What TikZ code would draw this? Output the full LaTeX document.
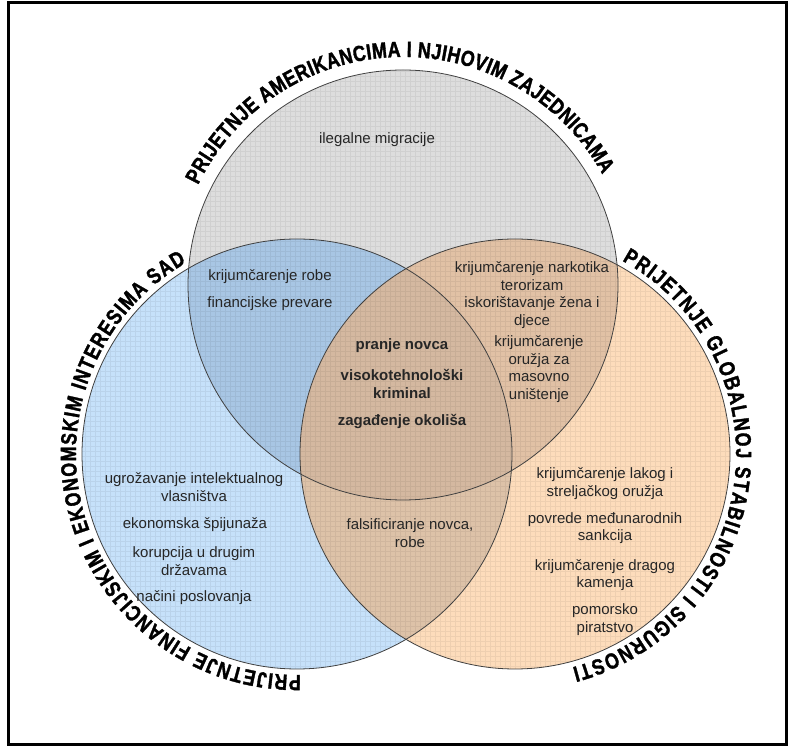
\documentclass[tikz,border=0pt]{standalone}
\usepackage{fontspec}
\setmainfont{Liberation Sans}
\newfontfamily\lblfont[FakeStretch=0.81, FakeBold=1.5]{Liberation Sans Bold}
\usetikzlibrary{calc,decorations.text}
\definecolor{cgray}{HTML}{DDDDDD}
\definecolor{cblue}{HTML}{C6E1FA}
\definecolor{corange}{HTML}{FDDCBB}
\definecolor{cgrayblue}{HTML}{A8C6E4}
\definecolor{cgrayorange}{HTML}{E1C1A5}
\definecolor{cblueorange}{HTML}{DDC2A8}
\definecolor{ccenter}{HTML}{D4B8A0}
\begin{document}
\begin{tikzpicture}[x=1pt,y=1pt,
  txt/.style={align=center, inner sep=0pt, text=black!85, font=\fontsize{15}{17.5}\selectfont},
  btxt/.style={txt, font=\bfseries\fontsize{15}{17.5}\selectfont},
  outline/.style={draw=black!75, line width=0.8pt},
  gridline/.style={draw=black, draw opacity=0.06, line width=0.4pt},
  arclabel/.style={decorate, decoration={text along path,
      text={|\lblfont\fontsize{22}{22}\selectfont|#1},
      text align={fit to path}}}
]
\useasboundingbox (0,0) rectangle (792,746);
\coordinate (T) at (403,461);
\coordinate (B) at (297,292);
\coordinate (O) at (515,292);
\def\R{215}
% fills
\fill[cgray] (T) circle (\R);
\fill[cblue] (B) circle (\R);
\fill[corange] (O) circle (\R);
\begin{scope}
  \clip (T) circle (\R);
  \fill[cgrayblue] (B) circle (\R);
  \fill[cgrayorange] (O) circle (\R);
\end{scope}
\begin{scope}
  \clip (B) circle (\R);
  \fill[cblueorange] (O) circle (\R);
  \clip (T) circle (\R);
  \fill[ccenter] (O) circle (\R);
\end{scope}
% grid texture
\begin{scope}
  \clip (T) circle (\R) (B) circle (\R) (O) circle (\R);
  \draw[gridline, step=5pt] (60,60) grid (760,700);
\end{scope}
% outlines
\draw[outline] (T) circle (\R);
\draw[outline] (B) circle (\R);
\draw[outline] (O) circle (\R);
% arc labels
\path[arclabel={PRIJETNJE AMERIKANCIMA I NJIHOVIM ZAJEDNICAMA}]
  ($(T)+(154:228)$) arc[start angle=154, end angle=29, radius=228];
\path[arclabel={PRIJETNJE FINANCIJSKIM I EKONOMSKIM INTERESIMA SAD}]
  ($(B)+(-89:221)$) arc[start angle=-89, end angle=-240, radius=221];
\path[arclabel={PRIJETNJE GLOBALNOJ STABILNOSTI I SIGURNOSTI}]
  ($(O)+(61:221)$) arc[start angle=61, end angle=-75, radius=221];
% texts
\node[txt] (t1) at (377,606) {ilegalne migracije};
\node[txt] (t2) at (270,469) {krijumčarenje robe};
\node[txt] (t3) at (270,442) {financijske prevare};
\node[txt] (t4) at (532,451) {krijumčarenje narkotika\\terorizam\\iskorištavanje žena i\\djece};
\node[txt] (t5) at (539,377) {krijumčarenje\\oružja za\\masovno\\uništenje};
\node[btxt] (t6) at (402,400) {pranje novca};
\node[btxt] (t7) at (402,362) {visokotehnološki\\kriminal};
\node[btxt] (t8) at (402,325) {zagađenje okoliša};
\node[txt] (t9) at (194,259) {ugrožavanje intelektualnog\\vlasništva};
\node[txt] (t10) at (195,221) {ekonomska špijunaža};
\node[txt] (t11) at (194,185) {korupcija u drugim\\državama};
\node[txt] (t12) at (194,148) {načini poslovanja};
\node[txt] (t13) at (410,213) {falsificiranje novca,\\robe};
\node[txt] (t14) at (605,262.5) {krijumčarenje lakog i\\streljačkog oružja};
\node[txt] (t15) at (605,218) {povrede međunarodnih\\sankcija};
\node[txt] (t16) at (605,171) {krijumčarenje dragog\\kamenja};
\node[txt] (t17) at (605,126.5) {pomorsko\\piratstvo};
% frame
\draw[line width=3pt] (8.5,1) rectangle (786,743.5);
\end{tikzpicture}
\end{document}
